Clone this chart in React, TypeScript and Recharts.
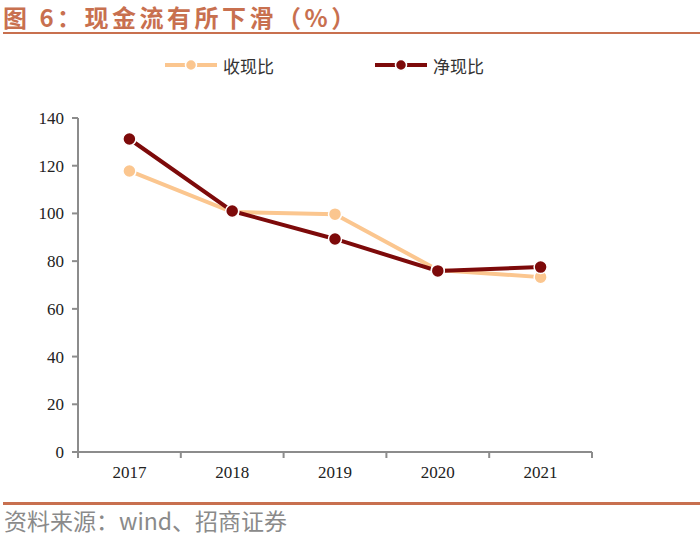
import { Line, LineChart, XAxis, YAxis } from "recharts";

const categories = ["2017", "2018", "2019", "2020", "2021"];
const cashRatio = [117.8, 100.6, 99.7, 76.3, 73.3];
const netCashRatio = [131.2, 101.0, 89.3, 75.9, 77.5];
const yTicks = [0, 20, 40, 60, 80, 100, 120, 140];

const LIGHT = "#fbc68f";
const DARK = "#7d0a0a";
const ACCENT = "#c8704f";

const data = categories.map((c, i) => ({
  x: i + 0.5,
  year: c,
  cash: cashRatio[i],
  net: netCashRatio[i],
}));

const boundaryTicks = categories.map((_, i) => i).concat(categories.length);
const centerTicks = categories.map((_, i) => i + 0.5);

const legendItems = [
  { name: "收现比", color: LIGHT, left: 165 },
  { name: "净现比", color: DARK, left: 375 },
];

function LegendBox() {
  return (
    <>
      {legendItems.map((it) => (
        <div
          key={it.name}
          style={{
            position: "absolute",
            left: it.left,
            top: 52,
            height: 26,
            display: "flex",
            alignItems: "center",
            fontFamily: "'Noto Sans CJK SC', sans-serif",
            fontSize: 17,
            color: "#333",
          }}
        >
          <svg width={52} height={14}>
            <line x1={0} y1={7} x2={52} y2={7} stroke={it.color} strokeWidth={4} />
            <circle cx={26} cy={7} r={5.5} fill={it.color} stroke="#fff" strokeWidth={1.5} />
          </svg>
          <span style={{ marginLeft: 6 }}>{it.name}</span>
        </div>
      ))}
    </>
  );
}

export default function App() {
  return (
    <div
      style={{
        position: "absolute",
        left: 0,
        top: 0,
        width: 700,
        height: 538,
        background: "#fff",
        overflow: "hidden",
      }}
    >
      <div
        style={{
          position: "absolute",
          left: 3,
          top: 3,
          lineHeight: "28px",
          fontFamily: "'Noto Sans CJK SC', sans-serif",
          fontWeight: 700,
          fontSize: 24,
          color: ACCENT,
          letterSpacing: 3.5,
          whiteSpace: "nowrap",
        }}
      >
        图 6：现金流有所下滑（%）
      </div>
      <div style={{ position: "absolute", left: 3, right: 0, top: 32, height: 2, background: ACCENT }} />

      <LegendBox />

      <div style={{ position: "absolute", left: 0, top: 0 }}>
        <LineChart
          width={700}
          height={538}
          data={data}
          margin={{ top: 118, right: 108, left: 26, bottom: 52 }}
        >
          <XAxis
            xAxisId="a"
            dataKey="x"
            type="number"
            domain={[0, 5]}
            ticks={boundaryTicks}
            tickFormatter={() => ""}
            height={4}
            tickSize={6}
            stroke="#8c8c8c"
            strokeWidth={2}
            allowDataOverflow
          />
          <XAxis
            xAxisId="b"
            dataKey="x"
            type="number"
            domain={[0, 5]}
            ticks={centerTicks}
            tickFormatter={(v: number) => categories[Math.floor(v)]}
            axisLine={false}
            tickLine={false}
            height={30}
            tickMargin={4}
            tick={{ fontFamily: "'Liberation Serif', serif", fontSize: 17, fill: "#222" }}
          />
          <YAxis
            domain={[0, 140]}
            ticks={yTicks}
            width={52}
            tickSize={6}
            tickMargin={8}
            stroke="#8c8c8c"
            strokeWidth={2}
            tick={{ fontFamily: "'Liberation Serif', serif", fontSize: 17, fill: "#222" }}
          />
          <Line
            xAxisId="a"
            dataKey="cash"
            stroke={LIGHT}
            strokeWidth={4}
            dot={{ r: 6.5, fill: LIGHT, stroke: "#fff", strokeWidth: 1.5 }}
            isAnimationActive={false}
          />
          <Line
            xAxisId="a"
            dataKey="net"
            stroke={DARK}
            strokeWidth={4}
            dot={{ r: 6.5, fill: DARK, stroke: "#fff", strokeWidth: 1.5 }}
            isAnimationActive={false}
          />
        </LineChart>
      </div>

      <div style={{ position: "absolute", left: 3, right: 0, top: 502, height: 3, background: ACCENT }} />
      <div
        style={{
          position: "absolute",
          left: 4,
          top: 505,
          fontFamily: "'Noto Sans CJK SC', sans-serif",
          fontSize: 23,
          lineHeight: "30px",
          color: "#8a8a8a",
          whiteSpace: "nowrap",
        }}
      >
        资料来源：wind、招商证券
      </div>
    </div>
  );
}
